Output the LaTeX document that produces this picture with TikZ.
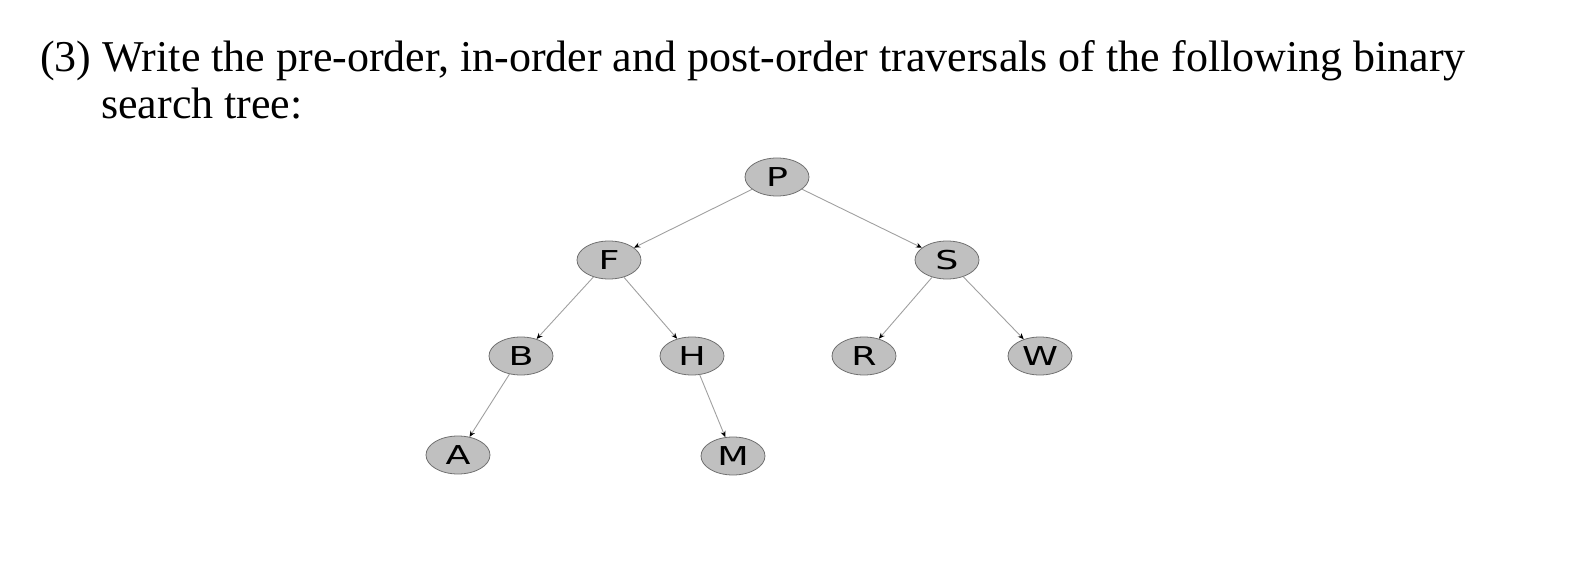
\documentclass[tikz,border=0pt]{standalone}
\usepackage{fontspec}
\setmainfont{Liberation Serif}
\newfontfamily\nodefont{DejaVu Sans}
\usetikzlibrary{shapes.geometric,arrows.meta}
\definecolor{nodefill}{HTML}{C0C0C0}
\definecolor{nodeline}{HTML}{707070}
\definecolor{edgecol}{HTML}{A0A0A0}
\newcommand{\wlabel}[1]{\scalebox{1.4}[1]{#1}}
\tikzset{
  tnode/.style={ellipse, draw=nodeline, fill=nodefill, line width=0.8pt,
    minimum width=64pt, minimum height=38pt, inner sep=0pt,
    font=\nodefont\fontsize{26}{26}\selectfont},
  tedge/.style={draw=edgecol, line width=0.9pt, -{Stealth[length=6pt,width=5pt,fill=black,color=black]}},
  qtext/.style={anchor=base west, inner sep=0pt, font=\fontsize{44}{50}\selectfont}
}
\begin{document}
\begin{tikzpicture}[x=1pt,y=-1pt]
\useasboundingbox (0,0) rectangle (1584,572);
\node[qtext] (num) at (40,72) {(3)};
\node[qtext] (l1) at (102,72) {Write the pre-order, in-order and post-order traversals of the following binary};
\node[qtext] (l2) at (101,119) {search tree:};
\node[tnode] (P) at (777,177) {\wlabel{P}};
\node[tnode] (F) at (609,260) {\wlabel{F}};
\node[tnode] (S) at (947,260) {\wlabel{S}};
\node[tnode] (B) at (521,356) {\wlabel{B}};
\node[tnode] (H) at (692,356) {\wlabel{H}};
\node[tnode] (R) at (864,356) {\wlabel{R}};
\node[tnode] (W) at (1040,356) {\wlabel{W}};
\node[tnode] (A) at (458,455) {\wlabel{A}};
\node[tnode] (M) at (733,456) {\wlabel{M}};
\draw[tedge] (P) -- (F);
\draw[tedge] (P) -- (S);
\draw[tedge] (F) -- (B);
\draw[tedge] (F) -- (H);
\draw[tedge] (S) -- (R);
\draw[tedge] (S) -- (W);
\draw[tedge] (B) -- (A);
\draw[tedge] (H) -- (M);
\end{tikzpicture}
\end{document}
